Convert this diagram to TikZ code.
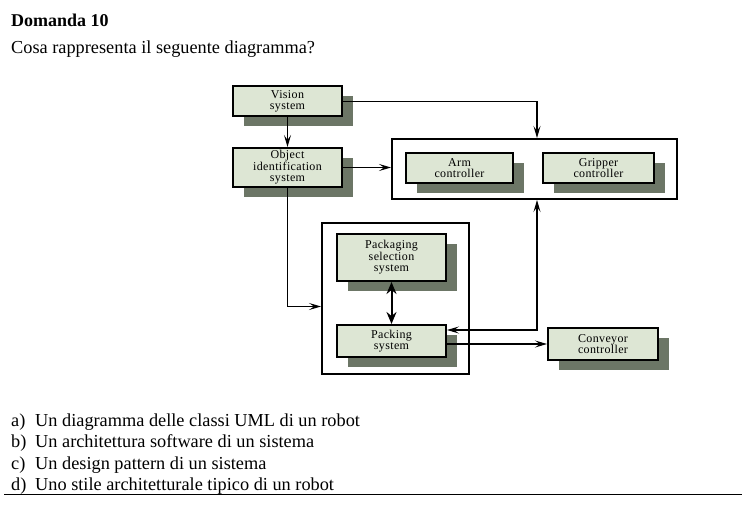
\documentclass[tikz,border=0pt]{standalone}
\usepackage{fontspec}
\setmainfont{Liberation Serif}
\newfontfamily\boxfont[LetterSpace=3]{Liberation Serif}
\usetikzlibrary{arrows.meta,shadows}
\definecolor{boxfill}{HTML}{DDE6D4}
\definecolor{shadowc}{HTML}{6C7666}
\begin{document}
\begin{tikzpicture}[x=1pt,y=-1pt,
  sysbox/.style={draw=black, line width=2pt, fill=boxfill, inner sep=0pt, align=center,
    font=\boxfont\fontsize{12}{11.5}\selectfont,
    drop shadow={shadow xshift=11pt, shadow yshift=-10pt, fill=shadowc, opacity=1}},
  groupbox/.style={draw=black, line width=2pt, fill=white, inner sep=0pt},
  arr/.style={line width=1.1pt, -{Stealth[length=12pt,width=7pt,inset=5pt]}},
  biarr/.style={line width=1.1pt, {Stealth[length=12pt,width=7pt,inset=5pt]}-{Stealth[length=12pt,width=7pt,inset=5pt]}},
  dblarr/.style={line width=2pt, {Stealth[length=12pt,width=10pt,inset=4pt]}-{Stealth[length=12pt,width=10pt,inset=4pt]}},
  qtext/.style={anchor=base west, inner sep=0pt, font=\fontsize{18.3}{20}\selectfont}]
\useasboundingbox (0,0) rectangle (746,513);

\node[anchor=base west, inner sep=0pt, font=\bfseries\fontsize{18}{20}\selectfont] (title) at (11,27) {Domanda 10};
\node[qtext] (question) at (11,54) {Cosa rappresenta il seguente diagramma?};

% group boxes
\node[groupbox, minimum width=285pt, minimum height=60pt] (big) at (534.5,169) {};
\node[groupbox, minimum width=147pt, minimum height=151pt] (outer) at (395.5,298.5) {};

% system boxes
\node[sysbox, minimum width=109pt, minimum height=30pt] (vis) at (287.5,101.5) {Vision\\system};
\node[sysbox, minimum width=109pt, minimum height=39pt] (obj) at (287.5,167.5) {Object\\identification\\system};
\node[sysbox, minimum width=107pt, minimum height=30pt] (arm) at (459.5,168) {Arm\\controller};
\node[sysbox, minimum width=111pt, minimum height=30pt] (grip) at (598.5,168) {Gripper\\controller};
\node[sysbox, minimum width=109pt, minimum height=47pt] (psel) at (391.5,257.5) {Packaging\\selection\\system};
\node[sysbox, minimum width=109pt, minimum height=32pt] (pkg) at (391.5,341) {Packing\\system};
\node[sysbox, minimum width=110pt, minimum height=32pt] (conv) at (603,344) {Conveyor\\controller};

% connectors
\draw[arr] (vis) -- (obj);
\draw[arr] (vis.east) -| ([xshift=2.5pt]big.north);
\draw[arr] (obj.east) -- (obj.east -| big.west);
\draw[arr] (obj.south) |- ([yshift=-8pt]outer.west);
\draw[dblarr] (psel) -- (pkg);
\draw[biarr] ([xshift=2.5pt]big.south) |- ([yshift=11pt]pkg.east);
\draw[arr] (pkg.east |- conv.west) -- (conv.west);

% answers
\node[qtext] (la) at (11,426) {a)};
\node[qtext] (ta) at (35,426) {Un diagramma delle classi UML di un robot};
\node[qtext] (lb) at (11,447.5) {b)};
\node[qtext] (tb) at (35,447.5) {Un architettura software di un sistema};
\node[qtext] (lc) at (11,469) {c)};
\node[qtext] (tc) at (35,469) {Un design pattern di un sistema};
\node[qtext] (ld) at (11,490.5) {d)};
\node[qtext] (td) at (35,490.5) {Uno stile architetturale tipico di un robot};
\draw[line width=1.2pt] (4,494.5) coordinate (r1) -- (742,494.5) coordinate (r2);
\end{tikzpicture}
\end{document}
